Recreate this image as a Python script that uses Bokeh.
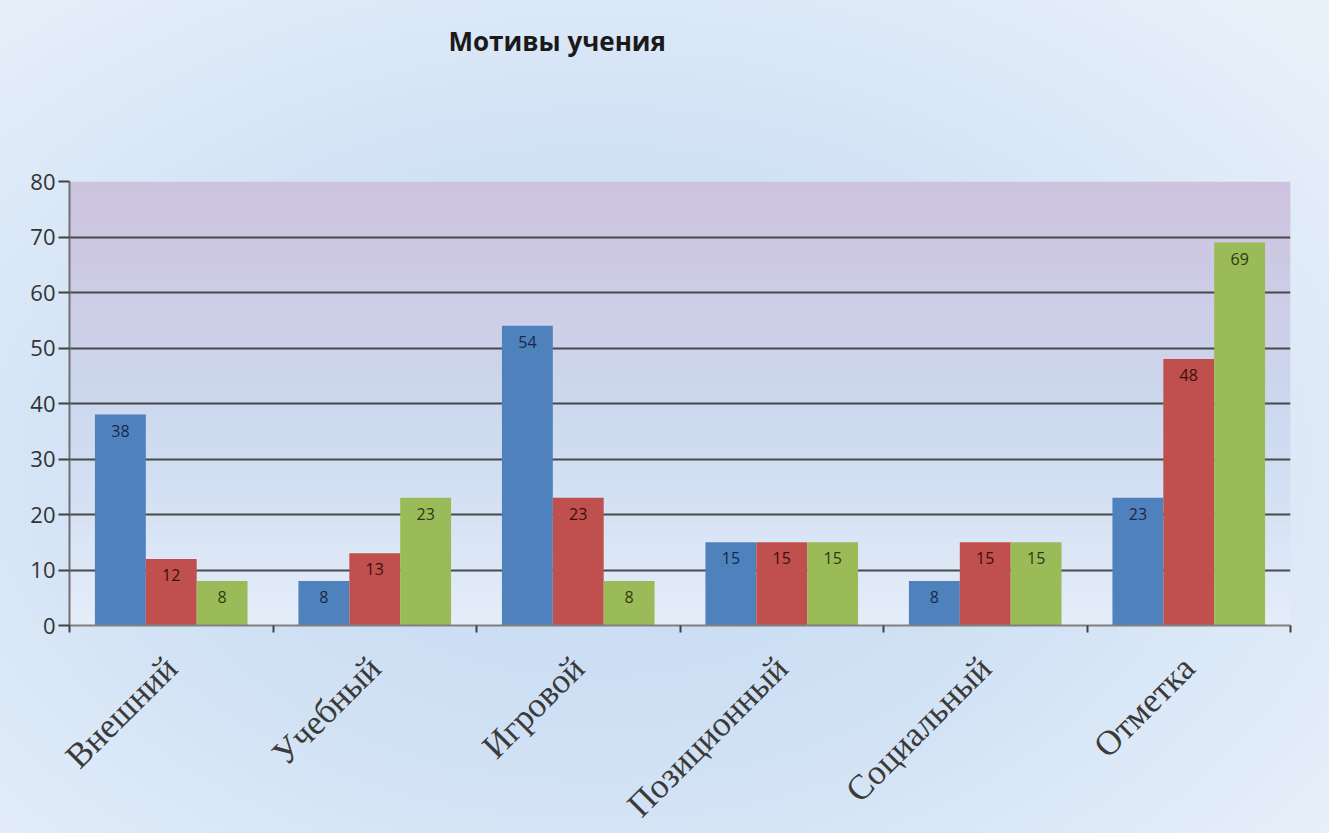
import math
from bokeh.plotting import figure
from bokeh.models import (ColumnDataSource, Range1d, FixedTicker, BoxAnnotation, Title)
from bokeh.transform import dodge
from bokeh.core.properties import value
from bokeh.embed import file_html
from bokeh.resources import INLINE

# ---- data ----
categories = ["Внешний", "Учебный", "Игровой", "Позиционный", "Социальный", "Отметка"]
series1 = [38, 8, 54, 15, 8, 23]
series2 = [12, 13, 23, 15, 15, 48]
series3 = [8, 23, 8, 15, 15, 69]
series_names = ["Ряд 1", "Ряд 2", "Ряд 3"]
y_ticks = [0, 10, 20, 30, 40, 50, 60, 70, 80]
title_text = "Мотивы учения"

bar_colors = ["#4F81BD", "#C0504D", "#9BBB59"]
label_colors = ["#17284A", "#3A0F0E", "#2C3A12"]

centers = [i + 0.5 for i in range(len(categories))]
boundaries = list(range(len(categories) + 1))

src = ColumnDataSource(dict(
    x=centers, cat=categories,
    s1=series1, s2=series2, s3=series3,
    t1=[str(v) for v in series1], t2=[str(v) for v in series2], t3=[str(v) for v in series3],
))

FW, FH = 1221, 444
p = figure(width=1329, height=833, output_backend="svg", toolbar_location=None,
           x_range=Range1d(0, len(categories)), y_range=Range1d(0, 80),
           min_border_left=69, min_border_right=39, min_border_top=181, min_border_bottom=208,
           frame_width=FW, frame_height=FH)

p.border_fill_alpha = 0
p.background_fill_alpha = 0
p.outline_line_color = None
p.styles = {"background-image": "radial-gradient(ellipse 70% 75% at 45% 55%, #C3D8F1 0%, #D3E3F5 55%, #E8F0FA 100%)"}

# plot-area vertical gradient (decoration)
stops = [(0, (229, 237, 249)), (20, (214, 226, 244)), (40, (203, 216, 238)),
         (60, (205, 204, 230)), (80, (205, 195, 222))]
nb = 60
for k in range(nb):
    lo = 80 * k / nb
    hi = 80 * (k + 1) / nb
    mid = (lo + hi) / 2
    for a in range(len(stops) - 1):
        if stops[a][0] <= mid <= stops[a + 1][0]:
            t = (mid - stops[a][0]) / (stops[a + 1][0] - stops[a][0])
            c = tuple(int(round(stops[a][1][q] + t * (stops[a + 1][1][q] - stops[a][1][q]))) for q in range(3))
            break
    p.add_layout(BoxAnnotation(bottom=lo, top=min(80, hi + 0.6), fill_color="#%02x%02x%02x" % c, fill_alpha=1,
                               line_color=None, level="image"))

# bars
offsets = [-0.25, 0.0, 0.25]
cols = ["s1", "s2", "s3"]
tcols = ["t1", "t2", "t3"]
for j in range(3):
    p.vbar(x=dodge("x", offsets[j], range=p.x_range), top=cols[j], width=0.25, source=src,
           fill_color=bar_colors[j], line_color=None, legend_label=series_names[j])
    p.text(x=dodge("x", offsets[j], range=p.x_range), y=cols[j], text=tcols[j], source=src,
           text_align="center", text_baseline="middle", y_offset=16,
           text_font=value("Open Sans"), text_font_size="16px", text_color=label_colors[j])
p.legend.visible = False

# grid
p.xgrid.grid_line_color = None
p.ygrid.ticker = FixedTicker(ticks=y_ticks)
p.ygrid.grid_line_color = "#383838"
p.ygrid.grid_line_width = 2.2
p.ygrid.grid_line_alpha = 0.9

# y axis
p.yaxis.ticker = FixedTicker(ticks=y_ticks)
p.yaxis.axis_line_color = "#707070"
p.yaxis.axis_line_width = 2
p.yaxis.major_tick_line_color = "#404040"
p.yaxis.major_tick_line_width = 2
p.yaxis.major_tick_out = 11
p.yaxis.major_tick_in = 0
p.yaxis.minor_tick_line_color = None
p.yaxis.major_label_text_font = "Open Sans"
p.yaxis.major_label_text_font_size = "22px"
p.yaxis.major_label_text_color = "#333333"
p.yaxis.major_label_standoff = 3

# x axis
p.xaxis.ticker = FixedTicker(ticks=centers, minor_ticks=boundaries)
p.xaxis.major_label_overrides = {c: n for c, n in zip(centers, categories)}
p.xaxis.axis_line_color = "#808080"
p.xaxis.axis_line_width = 2
p.xaxis.major_tick_line_color = None
p.xaxis.minor_tick_line_color = "#404040"
p.xaxis.minor_tick_line_width = 2
p.xaxis.minor_tick_out = 7
p.xaxis.minor_tick_in = 0
p.xaxis.major_label_orientation = math.pi / 4
p.xaxis.major_label_text_font = "Liberation Serif"
p.xaxis.major_label_text_font_size = "35px"
p.xaxis.major_label_text_color = "#3a3a3a"
p.xaxis.major_label_standoff = 30

# title: a blank spacer title next to the frame, then the real title above it
p.add_layout(Title(text=" ", text_font_size="10px", standoff=105), "above")
p.add_layout(Title(text=title_text, align="left", offset=379, text_font="Open Sans",
                   text_font_size="26px", text_font_style="bold", text_color="#1a1a1a",
                   standoff=10), "above")

open("out.html", "w").write(file_html(p, INLINE))
